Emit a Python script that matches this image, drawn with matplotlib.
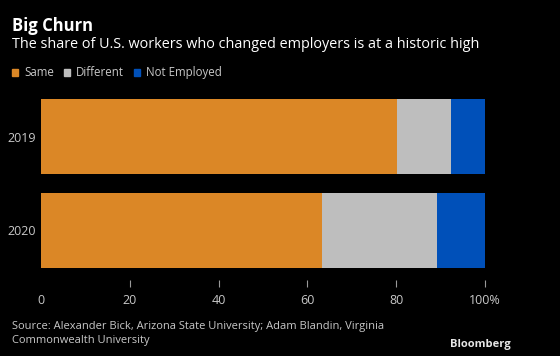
"""
Big Churn - share of U.S. workers who changed employers
"""

import matplotlib
matplotlib.use('Agg')
import matplotlib.pyplot as plt
from matplotlib.patches import Rectangle

# Data (percent of workers)
years = ['2019', '2020']
same = [80.1, 63.2]
different = [12.2, 26.0]
not_employed = [7.7, 10.8]

series_names = ['Same', 'Different', 'Not Employed']
series_colors = ['#DB8726', '#BEBEBE', '#0050B9']
xticks = [0, 20, 40, 60, 80, 100]
xtick_labels = ['0', '20', '40', '60', '80', '100%']

BG = '#000000'
TXT = '#C8C8C8'
plt.rcParams['font.family'] = ['Open Sans', 'DejaVu Sans']

W, H = 560, 356
fig = plt.figure(figsize=(W / 100, H / 100), dpi=100, facecolor=BG)

# axes placed in pixel coordinates
left, right, top, bottom = 41, 485, 93, 280
ax = fig.add_axes([left / W, 1 - bottom / H, (right - left) / W, (bottom - top) / H])
ax.set_facecolor(BG)

pos = list(range(len(years)))
ax.barh(pos, same, height=0.8, color=series_colors[0])
ax.barh(pos, different, left=same, height=0.8, color=series_colors[1])
ax.barh(pos, not_employed, left=[a + b for a, b in zip(same, different)],
        height=0.8, color=series_colors[2])

ax.set_xlim(0, 100)
ax.set_ylim(1.527, -0.463)
ax.set_yticks(pos)
ax.set_yticklabels(years)
ax.set_xticks(xticks)
ax.set_xticklabels(xtick_labels)
ax.tick_params(axis='y', length=0, colors=TXT, labelsize=9, pad=4)
ax.tick_params(axis='x', length=5, width=0.8, color='#9A9A9A', labelcolor=TXT,
               labelsize=9, pad=5)
ax.xaxis.get_major_ticks()[0].tick1line.set_visible(False)
for s in ax.spines.values():
    s.set_visible(False)

# Title and subtitle
fig.text(12 / W, 1 - 26 / H, 'Big Churn', color='white', fontsize=12,
         fontweight='bold', va='center', ha='left')
fig.text(12 / W, 1 - 45 / H, 'The share of U.S. workers who changed employers is at a historic high',
         color='white', fontsize=10.4, va='center', ha='left')

# Legend
lx = 12
for name, col in zip(series_names, series_colors):
    fig.patches.append(Rectangle((lx / W, 1 - 76 / H), 6 / W, 7 / H,
                                 transform=fig.transFigure, color=col))
    t = fig.text((lx + 12) / W, 1 - 72.5 / H, name, color=TXT, fontsize=8.3,
                 va='center', ha='left')
    fig.canvas.draw()
    bb = t.get_window_extent()
    lx = bb.x1 + 10

# Source and logo
fig.text(12 / W, 1 - 327 / H, 'Source: Alexander Bick, Arizona State University; Adam Blandin, Virginia',
         color=TXT, fontsize=8, va='center', ha='left')
fig.text(12 / W, 1 - 341 / H, 'Commonwealth University',
         color=TXT, fontsize=8, va='center', ha='left')
fig.text(511 / W, 1 - 345 / H, 'Bloomberg', color='#E6E6E6', fontsize=8,
         fontweight='bold', va='center', ha='right')

plt.savefig('out.png', dpi=100, facecolor=BG)
